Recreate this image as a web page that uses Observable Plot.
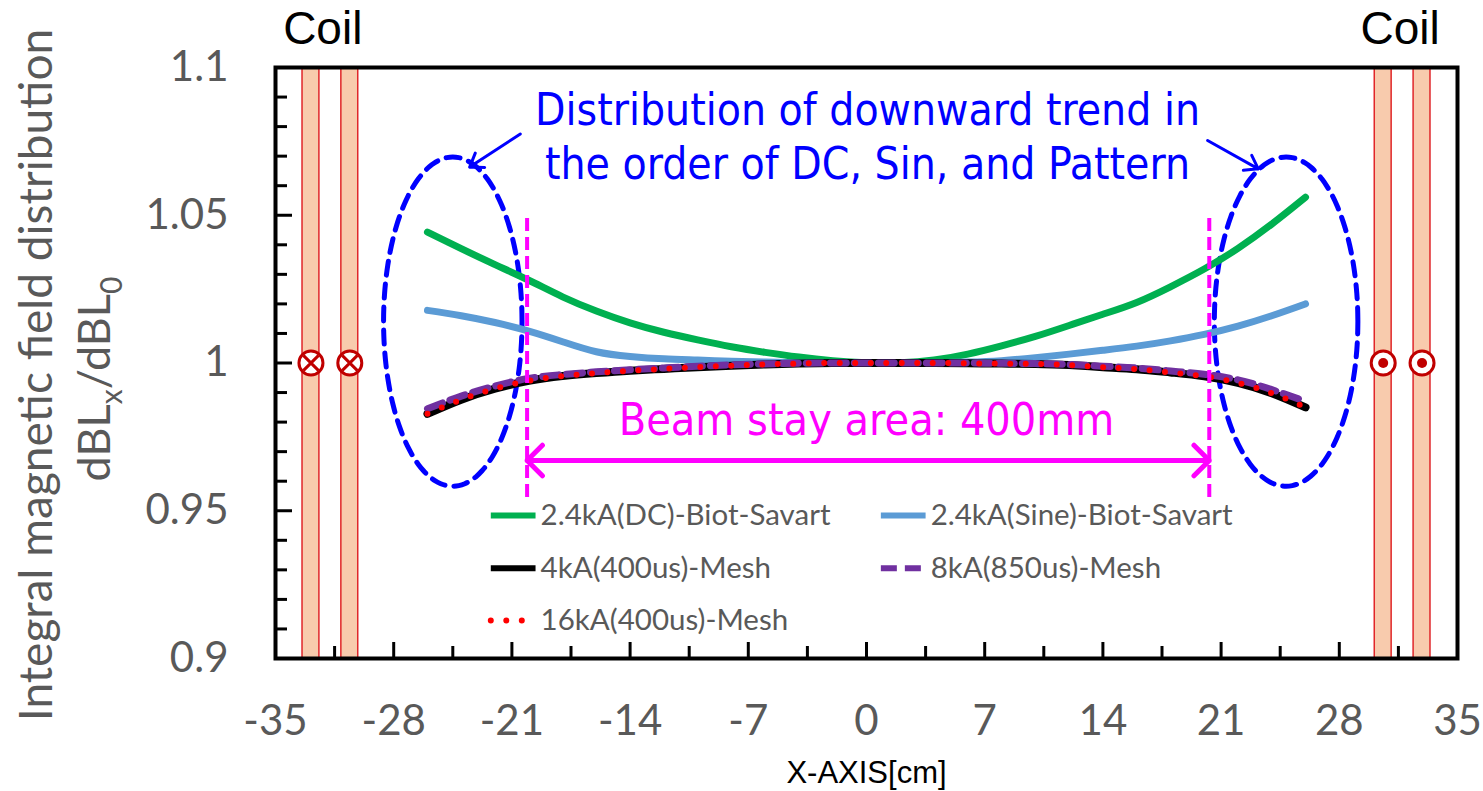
<!DOCTYPE html>
<html>
<head>
<meta charset="utf-8">
<script src="https://cdn.jsdelivr.net/npm/d3@7"></script>
<script src="https://cdn.jsdelivr.net/npm/@observablehq/plot@0.6"></script>
<style>
  html, body { margin: 0; padding: 0; background: white; }
  svg { display: block; }
</style>
</head>
<body>
<script>
// ---------------- data ----------------
const xPositions = [-26,-24,-22,-20,-18,-16,-14,-12,-10,-8,-6,-4,-2,0,2,4,6,8,10,12,14,16,18,20,22,24,26];
const dcBiot   = [1.0443,1.0387,1.0333,1.0280,1.0224,1.0176,1.0136,1.0104,1.0078,1.0055,1.0036,1.0020,1.0008,1.0001,1.0001,1.0010,1.0030,1.0058,1.0090,1.0127,1.0165,1.0205,1.0258,1.0318,1.0388,1.0470,1.0561];
const sineBiot = [1.0178,1.0160,1.0137,1.0108,1.0072,1.0038,1.0022,1.0014,1.0010,1.0006,1.0003,1.0001,1.0000,1.0000,1.0000,1.0001,1.0003,1.0008,1.0018,1.0030,1.0043,1.0057,1.0075,1.0097,1.0125,1.0160,1.0200];
const mesh4kA  = [0.9828,0.9876,0.9913,0.9940,0.9956,0.9966,0.9974,0.9980,0.9986,0.9991,0.9995,0.9998,1.0000,1.0000,1.0000,1.0000,0.9999,0.9998,0.9997,0.9993,0.9986,0.9979,0.9968,0.9955,0.9933,0.9898,0.9850];
const mesh8kA  = [0.9845,0.9888,0.9922,0.9948,0.9961,0.9970,0.9977,0.9983,0.9989,0.9994,0.9997,0.9999,1.0000,1.0000,1.0000,1.0000,1.0000,0.9999,0.9998,0.9995,0.9989,0.9983,0.9973,0.9962,0.9943,0.9910,0.9870];
const mesh16kA = [0.9828,0.9876,0.9913,0.9940,0.9956,0.9966,0.9974,0.9980,0.9986,0.9991,0.9995,0.9998,1.0000,1.0000,1.0000,1.0000,0.9999,0.9998,0.9997,0.9993,0.9986,0.9979,0.9968,0.9955,0.9933,0.9898,0.9850];
const seriesNames = ["2.4kA(DC)-Biot-Savart","2.4kA(Sine)-Biot-Savart","4kA(400us)-Mesh","8kA(850us)-Mesh","16kA(400us)-Mesh"];

const xDomain = [-35, 35];
const yDomain = [0.9, 1.1];
const xTickLabels = [-35,-28,-21,-14,-7,0,7,14,21,28,35];
const xMinorTicks = [-31.5,-24.5,-17.5,-10.5,-3.5,3.5,10.5,17.5,24.5,31.5];
const xMajorTicks = [-28,-21,-14,-7,0,7,14,21,28];
const yTickLabels = [0.9,0.95,1,1.05,1.1];
const yMinorTicks = [0.91,0.92,0.93,0.94,0.96,0.97,0.98,0.99,1.01,1.02,1.03,1.04,1.06,1.07,1.08,1.09];
const yMajorTicks = [0.95,1,1.05];

// coils
const coilBands = [[-33.4,-32.4],[-31.1,-30.1],[30.1,31.1],[32.4,33.4]];
const coilInX = [-32.9,-30.6];   // current into page
const coilOutX = [30.6,32.9];    // current out of page
const coilSymbolY = 1.0;
const coilLabelX = [-32.2, 31.6];
const coilLabel = "Coil";

// annotations
const beamStay = [-20.1, 20.3];
const beamLineY = [0.9545, 1.0489];
const beamArrowY = 0.967;
const beamText = "Beam stay area: 400mm";
const beamTextPos = [0.0, 0.9805];
const trendText = "Distribution of downward trend in\nthe order of DC, Sin, and Pattern";
const trendTextPos = [0.06, 1.0772];
const ellipses = [{cx: -24.5, cy: 1.014, rx: 4.1, ry: 0.0557}, {cx: 24.85, cy: 1.014, rx: 4.25, ry: 0.0557}];
const trendArrows = [{x1: -20.5, y1: 1.0775, x2: -23.5, y2: 1.0663}, {x1: 20.2, y1: 1.0753, x2: 23.2, y2: 1.0657}];

const yTitle = "Integral magnetic field distribution";
const yTitle2 = "dBLx/dBL0";
const xTitle = "X-AXIS[cm]";

// ---------------- styles / layout ----------------
const W = 1483, H = 791;
const mL = 275, mR = 26, mT = 67, mB = 133;
const frameW = W - mL - mR, frameH = H - mT - mB;
const gray = "#595959";
const narrow = "'Liberation Sans Narrow', 'Arial Narrow', 'DejaVu Sans Condensed', sans-serif";
const arial = "'Liberation Sans', Arial, sans-serif";
const labelFont = "Lato, 'Open Sans', sans-serif";

const seriesStyles = [
  {stroke: "#00b050", strokeWidth: 7},
  {stroke: "#5b9bd5", strokeWidth: 7},
  {stroke: "#000000", strokeWidth: 8},
  {stroke: "#7030a0", strokeWidth: 7, strokeDasharray: "16 8"},
  {stroke: "#ff0000", strokeWidth: 6, strokeDasharray: "0 15.5", strokeLinecap: "round"}
];
const seriesValues = [dcBiot, sineBiot, mesh4kA, mesh8kA, mesh16kA];
const legendCols = [-22.25, 0.85];
const legendRows = [0.9484, 0.9305, 0.9129];
const legendSampleLen = 2.65;

// build tables
const seriesData = seriesValues.map(vals => xPositions.map((x, i) => ({x, y: vals[i]})));
const ellipseData = ellipses.map(e => d3.range(0, 73).map(k => {
  const t = k / 72 * 2 * Math.PI;
  return {x: e.cx + e.rx * Math.cos(t), y: e.cy + e.ry * Math.sin(t)};
}));
const beamMid = (beamStay[0] + beamStay[1]) / 2;

const marks = [];
marks.push(Plot.rect(coilBands, {x1: d => d[0], x2: d => d[1], fill: "#f8cbad", stroke: "#e0262a", strokeWidth: 1.5}));
marks.push(Plot.dot(coilInX.concat(coilOutX), {x: d => d, y: coilSymbolY, r: 12, fill: "white", stroke: "#c00000", strokeWidth: 3}));
marks.push(Plot.dot(coilInX, {x: d => d, y: coilSymbolY, r: 7, symbol: "times", stroke: "#c00000", strokeWidth: 3}));
marks.push(Plot.dot(coilOutX, {x: d => d, y: coilSymbolY, r: 5, fill: "#c00000"}));
ellipseData.forEach(pts => marks.push(Plot.line(pts, {x: "x", y: "y", stroke: "#0000ff", strokeWidth: 5, strokeDasharray: "14 9", curve: "catmull-rom"})));
seriesData.forEach((pts, i) => marks.push(Plot.line(pts, {x: "x", y: "y", curve: "natural", ...seriesStyles[i]})));
marks.push(Plot.ruleX(beamStay, {x: d => d, y1: beamLineY[0], y2: beamLineY[1], stroke: "#ff00ff", strokeWidth: 4, strokeDasharray: "13 6"}));
marks.push(Plot.arrow(beamStay, {x1: beamMid, y1: beamArrowY, x2: d => d, y2: beamArrowY, stroke: "#ff00ff", strokeWidth: 5, headLength: 6.5, headAngle: 90}));
marks.push(Plot.text([beamText], {x: beamTextPos[0], y: beamTextPos[1], fontSize: 44.5, fontFamily: narrow, fill: "#ff00ff"}));
marks.push(Plot.text([trendText], {x: trendTextPos[0], y: trendTextPos[1], fontSize: 44, lineHeight: 1.22, fontFamily: narrow, fill: "#0000ff"}));
marks.push(Plot.arrow(trendArrows, {x1: "x1", y1: "y1", x2: "x2", y2: "y2", stroke: "#0000ff", strokeWidth: 3, headLength: 7.5, headAngle: 70}));
// legend
seriesNames.forEach((name, i) => {
  const col = legendCols[i % 2], row = legendRows[Math.floor(i / 2)];
  marks.push(Plot.link([name], {x1: col, x2: col + legendSampleLen, y1: row, y2: row, ...seriesStyles[i], strokeWidth: Math.min(seriesStyles[i].strokeWidth, 6)}));
  marks.push(Plot.text([name], {x: col + legendSampleLen + 0.3, y: row, textAnchor: "start", fontSize: 29.5, fontFamily: labelFont, fill: gray}));
});
marks.push(Plot.text(coilLabelX, {x: d => d, frameAnchor: "top", lineAnchor: "middle", dy: -38, text: () => coilLabel, fontSize: 46, fontFamily: arial, fill: "black"}));
// frame and inner ticks
marks.push(Plot.frame({stroke: "black", strokeWidth: 4}));
marks.push(Plot.ruleX(xMinorTicks, {x: d => d, insetTop: frameH - 12, stroke: "black", strokeWidth: 3}));
marks.push(Plot.ruleX(xMajorTicks, {x: d => d, insetTop: frameH - 16, stroke: "black", strokeWidth: 3}));
marks.push(Plot.ruleY(yMinorTicks, {y: d => d, insetRight: frameW - 12, stroke: "black", strokeWidth: 3}));
marks.push(Plot.ruleY(yMajorTicks, {y: d => d, insetRight: frameW - 17, stroke: "black", strokeWidth: 3}));
// tick labels
marks.push(Plot.text(xTickLabels, {x: d => d, frameAnchor: "bottom", lineAnchor: "middle", dy: 63, text: d => String(d), fontSize: 42, fontFamily: labelFont, fill: gray}));
marks.push(Plot.text(yTickLabels, {y: d => d, frameAnchor: "left", textAnchor: "end", lineAnchor: "middle", dx: -47, text: d => String(d), fontSize: 42, fontFamily: labelFont, fill: gray}));
// titles
marks.push(Plot.text([yTitle], {frameAnchor: "left", textAnchor: "middle", lineAnchor: "middle", dx: -238, dy: 12, rotate: -90, fontSize: 46, fontFamily: labelFont, fill: gray}));
marks.push(Plot.text([yTitle2], {frameAnchor: "left", textAnchor: "middle", lineAnchor: "middle", dx: -180, dy: 16, rotate: -90, fontSize: 45, fontFamily: labelFont, fill: gray}));
marks.push(Plot.text([xTitle], {frameAnchor: "bottom", textAnchor: "middle", lineAnchor: "middle", dy: 115, fontSize: 31, fontFamily: arial, fill: "black"}));

const svg = Plot.plot({
  width: W, height: H,
  marginLeft: mL, marginRight: mR, marginTop: mT, marginBottom: mB,
  x: {domain: xDomain, axis: null},
  y: {domain: yDomain, axis: null},
  style: {background: "white", overflow: "visible", fontFamily: labelFont},
  marks
});

// subscripts in dBLx/dBL0
svg.querySelectorAll("text").forEach(t => {
  if (t.textContent === yTitle2) {
    const parts = [["dBL", 0], ["x", 1], ["/dBL", 0], ["0", 1]];
    while (t.firstChild) t.removeChild(t.firstChild);
    let shifted = false;
    parts.forEach(([s, sub]) => {
      const ts = document.createElementNS("http://www.w3.org/2000/svg", "tspan");
      ts.textContent = s;
      if (sub) ts.setAttribute("font-size", "30");
      if (sub && !shifted) { ts.setAttribute("dy", "12"); shifted = true; }
      else if (!sub && shifted) { ts.setAttribute("dy", "-12"); shifted = false; }
      t.appendChild(ts);
    });
  }
});
document.body.appendChild(svg);
</script>
</body>
</html>
